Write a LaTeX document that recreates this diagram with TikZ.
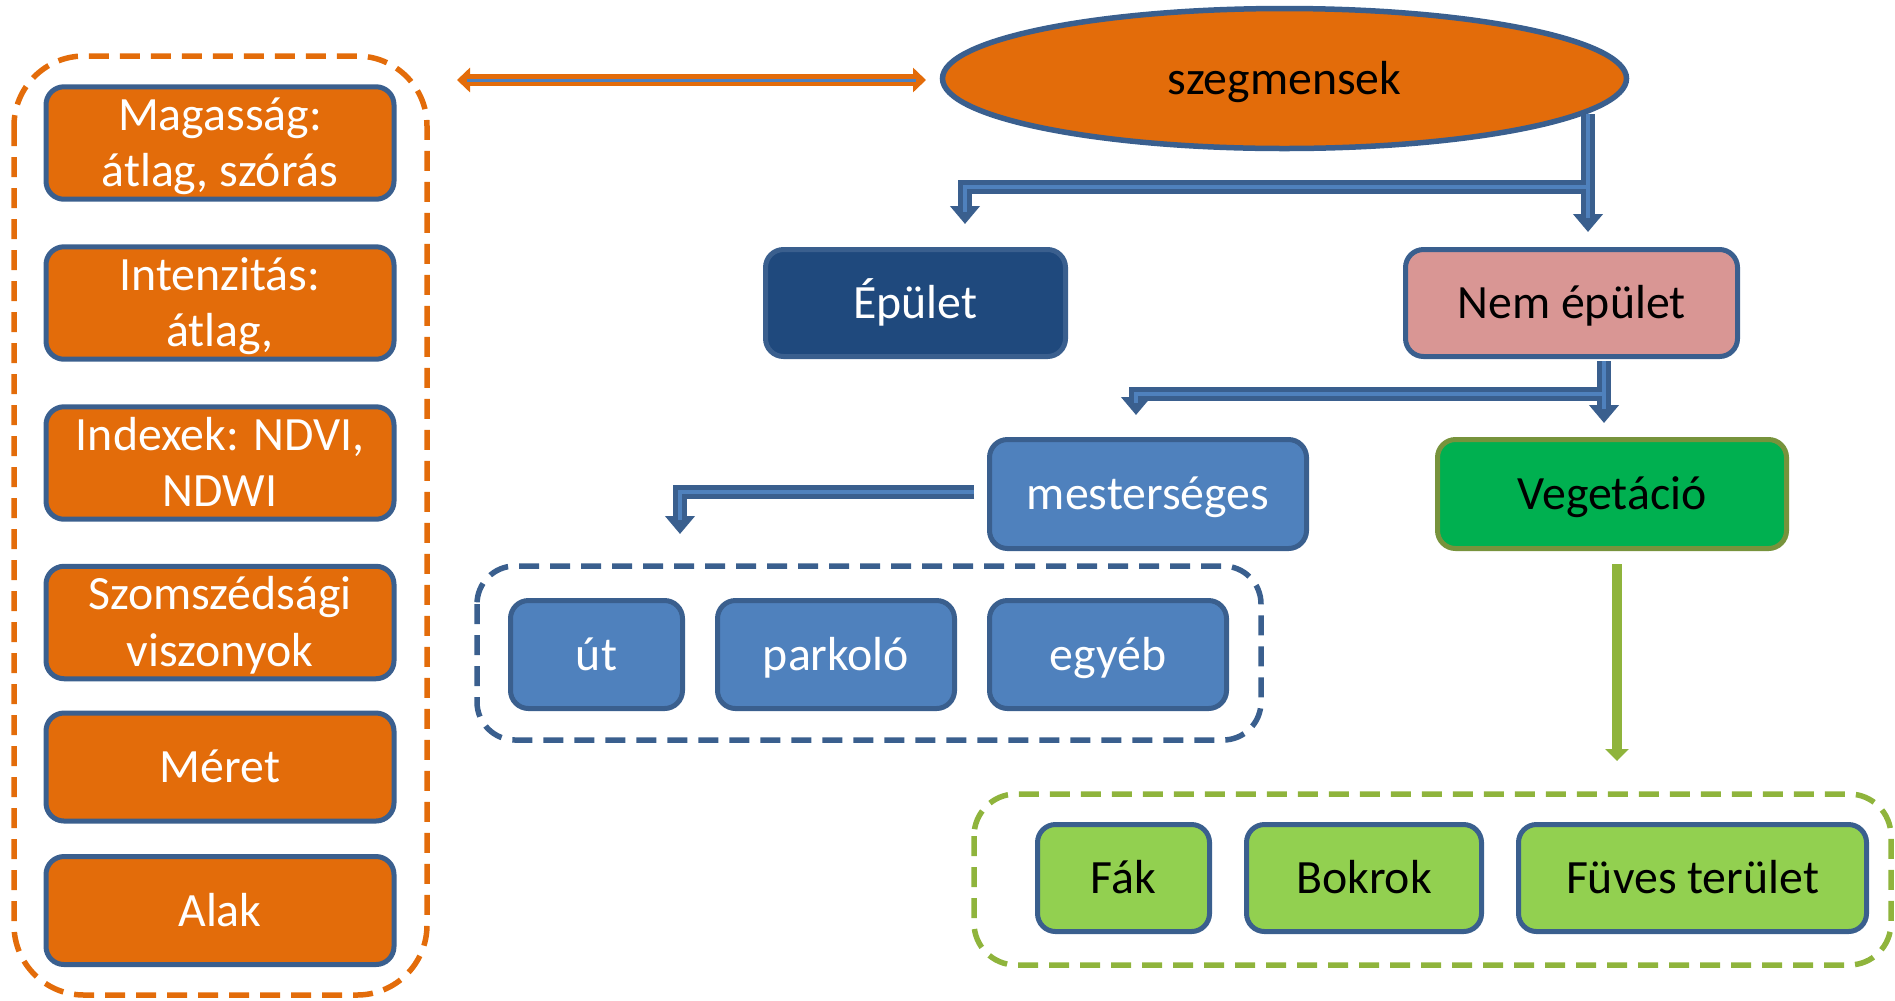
\documentclass[tikz,border=0pt]{standalone}
\usepackage{fontspec}
\setmainfont{Carlito}
\usetikzlibrary{shapes.geometric,arrows.meta,calc}
\definecolor{orng}{HTML}{E36C0A}
\definecolor{bord}{HTML}{3A5F8E}
\definecolor{dblue}{HTML}{1F497D}
\definecolor{mblue}{HTML}{4F81BD}
\definecolor{pink}{HTML}{D99694}
\definecolor{vgreen}{HTML}{00B050}
\definecolor{vbord}{HTML}{77933C}
\definecolor{lgreen}{HTML}{92D050}
\definecolor{dgreen}{HTML}{8FB43C}
\newcommand\lbl[1]{\raisebox{-0.43mm}[\height][\depth]{\begin{tabular}{@{}c@{}}#1\end{tabular}}}
\begin{document}
\begin{tikzpicture}[x=0.1mm,y=-0.1mm,
  box/.style={draw=bord, line width=0.5mm, rounded corners=1.8mm, inner sep=0pt,
    font=\fontsize{13.6}{16}\selectfont},
  obox/.style={box, fill=orng, text=white, minimum width=34.8mm, minimum height=10.8mm},
  bbox/.style={box, fill=mblue, text=white, minimum height=10.8mm},
  gbox/.style={box, fill=lgreen, text=black, minimum height=10.7mm},
  cont/.style={line width=0.55mm, dash pattern=on 2.0mm off 1.1mm},
  barrow/.style={draw=bord, line width=1.4mm, -{Triangle[width=2.9mm,length=1.8mm]}},
  binner/.style={draw=mblue, line width=0.45mm},
  garrow/.style={draw=dgreen, line width=1.0mm, -{Triangle[width=2.3mm,length=1.2mm]}},
  oarrow/.style={draw=orng, line width=1.2mm, {Triangle[width=2.4mm,length=1.3mm]}-{Triangle[width=2.4mm,length=1.3mm]}},
  oinner/.style={draw=mblue, line width=0.3mm}
]
\useasboundingbox (0,0) rectangle (1895,1000);

% dashed containers
\draw[cont, draw=orng, rounded corners=7mm] (14,56) rectangle (427,995);
\draw[cont, draw=bord, rounded corners=3.8mm] (477,566) rectangle (1261,740);
\draw[cont, draw=dgreen, rounded corners=4.2mm] (974,794) rectangle (1891,965);

% left feature boxes
\node[obox] (m1) at (220,143) {\lbl{Magasság:\\átlag, szórás}};
\node[obox] (m2) at (220,303) {\lbl{Intenzitás:\\átlag,}};
\node[obox] (m3) at (220,463) {\lbl{Indexek: NDVI,\\NDWI}};
\node[obox] (m4) at (220,622.5) {\lbl{Szomszédsági\\viszonyok}};
\node[obox] (m5) at (220,767) {\lbl{Méret}};
\node[obox] (m6) at (220,910.5) {\lbl{Alak}};

% hierarchy
\node[ellipse, draw=bord, line width=0.55mm, fill=orng, inner sep=0pt,
  minimum width=68.4mm, minimum height=14.0mm,
  font=\fontsize{13.6}{16}\selectfont] (seg) at (1284.5,78.5) {\lbl{szegmensek}};
\node[box, fill=dblue, text=white, minimum width=30.0mm, minimum height=10.7mm] (epulet) at (915.5,303) {\lbl{Épület}};
\node[box, fill=pink, text=black, minimum width=33.2mm, minimum height=10.7mm] (nemep) at (1571.5,303) {\lbl{Nem épület}};
\node[bbox, minimum width=31.7mm, minimum height=10.9mm] (mest) at (1148,494) {\lbl{mesterséges}};
\node[box, draw=vbord, fill=vgreen, text=black, minimum width=34.9mm, minimum height=10.9mm] (veg) at (1612,494) {\lbl{Vegetáció}};
\node[bbox, minimum width=17.2mm] (ut) at (596.5,654.5) {\lbl{út}};
\node[bbox, minimum width=23.7mm] (park) at (836,654.5) {\lbl{parkoló}};
\node[bbox, minimum width=23.7mm] (egyeb) at (1108,654.5) {\lbl{egyéb}};
\node[gbox, minimum width=17.2mm] (fak) at (1123.5,878) {\lbl{Fák}};
\node[gbox, minimum width=23.5mm] (bokr) at (1364,878) {\lbl{Bokrok}};
\node[gbox, minimum width=34.8mm] (fuves) at (1692.5,878) {\lbl{Füves terület}};

% coordinates for block arrows
\coordinate (a1s) at (1588,114);
\coordinate (a1t) at (1588,232);
\coordinate (a1b) at (1588,187);
\coordinate (a1l) at (965,187);
\coordinate (a1lt) at (965,224);
\coordinate (a2s) at (1604,361);
\coordinate (a2t) at (1604,423);
\coordinate (a2b) at (1604,394);
\coordinate (a2l) at (1136,394);
\coordinate (a2lt) at (1136,415);
\coordinate (a3s) at (974,492);
\coordinate (a3l) at (680,492);
\coordinate (a3t) at (680,534);
\coordinate (gs) at (1617,564);
\coordinate (gt) at (1617,761);
\coordinate (dl) at (457,80);
\coordinate (dr) at (926,80);

% blue bent arrows
\draw[barrow] (a1b) -- (a1l) -- (a1lt);
\draw[barrow] (a1s) -- (a1t);
\draw[binner] (a1b) -- (a1l) -- ($(a1lt)+(0,-12)$);
\draw[binner] (a1s) -- ($(a1t)+(0,-14)$);

\draw[barrow] (a2b) -- (a2l) -- (a2lt);
\draw[barrow] (a2s) -- (a2t);
\draw[binner] (a2b) -- (a2l) -- ($(a2lt)+(0,-12)$);
\draw[binner] (a2s) -- ($(a2t)+(0,-14)$);

\draw[barrow] (a3s) -- (a3l) -- (a3t);
\draw[binner] (a3s) -- (a3l) -- ($(a3t)+(0,-14)$);

% green arrow
\draw[garrow] (gs) -- (gt);

% orange double arrow
\draw[oarrow] (dl) -- (dr);
\draw[oinner] ($(dl)+(10,0)$) -- ($(dr)+(-10,0)$);
\end{tikzpicture}
\end{document}
